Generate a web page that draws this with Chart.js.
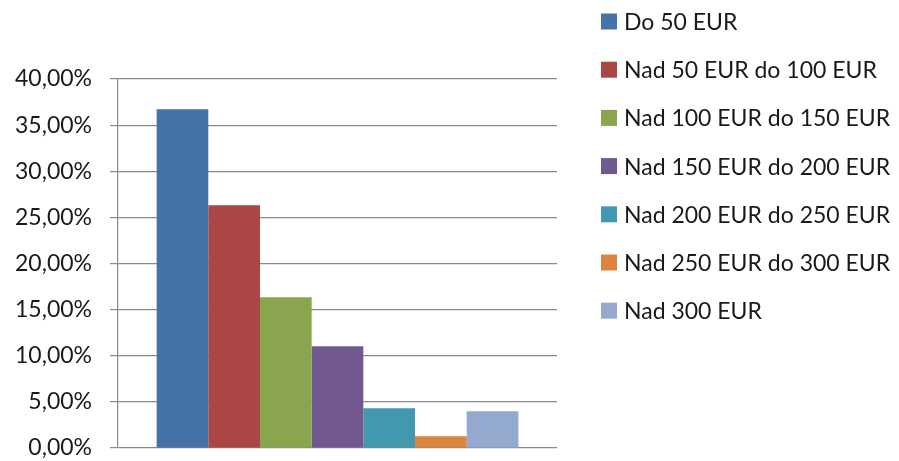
<!DOCTYPE html>
<html>
<head>
<meta charset="utf-8">
<script src="https://cdn.jsdelivr.net/npm/chart.js@4/dist/chart.umd.min.js"></script>
<style>
  html, body { margin: 0; padding: 0; background: #fff; }
  #wrap { width: 899px; height: 461px; position: relative; }
</style>
</head>
<body>
<div id="wrap"><canvas id="spend_chart"></canvas></div>
<script>
// single category, one dataset per price band
const categories = [''];
const bandLabels = ['Do 50 EUR', 'Nad 50 EUR do 100 EUR', 'Nad 100 EUR do 150 EUR', 'Nad 150 EUR do 200 EUR',
  'Nad 200 EUR do 250 EUR', 'Nad 250 EUR do 300 EUR', 'Nad 300 EUR'];
const bandValues = [36.73, 26.32, 16.34, 11.03, 4.31, 1.27, 3.98];
const bandColors = ['#4572A7', '#AA4643', '#89A54E', '#71588F', '#4198AF', '#DB843D', '#93A9CF'];
const yTicks = [0, 5, 10, 15, 20, 25, 30, 35, 40];

const FONT = 'Lato, "Open Sans", sans-serif';

// legend drawn in the right margin, Excel style
const sideLegend = {
  id: 'sideLegend',
  afterDraw(chart) {
    const ctx = chart.ctx;
    ctx.save();
    ctx.font = '23px ' + FONT;
    ctx.textBaseline = 'middle';
    ctx.textAlign = 'left';
    chart.data.datasets.forEach(function(ds, i) {
      const cy = 21.5 + i * 48.2;
      ctx.fillStyle = ds.backgroundColor;
      ctx.fillRect(601, cy - 8, 16, 16);
      ctx.fillStyle = '#1a1a1a';
      ctx.fillText(ds.label, 624, cy + 1);
    });
    ctx.restore();
  }
};

const ctx = document.getElementById('spend_chart').getContext('2d');
new Chart(ctx, {
  type: 'bar',
  data: {
    labels: categories,
    datasets: bandLabels.map(function(lbl, i) {
      return { label: lbl, data: [bandValues[i]], backgroundColor: bandColors[i], borderWidth: 0 };
    })
  },
  options: {
    responsive: true,
    maintainAspectRatio: false,
    animation: false,
    layout: { padding: { top: 79, right: 342, bottom: 13, left: 0 } },
    categoryPercentage: 0.824,
    barPercentage: 1,
    plugins: { legend: { display: false }, tooltip: { enabled: false } },
    scales: {
      x: { display: false },
      y: {
        min: 0, max: 40,
        afterFit: function(s) { s.width = 118; s.paddingTop = 13; s.paddingBottom = 13; },
        afterBuildTicks: function(s) { s.ticks = yTicks.map(function(v) { return { value: v }; }); },
        grid: { color: '#8a8a8a', lineWidth: 1.2, tickLength: 8 },
        border: { color: '#8a8a8a', width: 1.2 },
        ticks: {
          padding: 18,
          color: '#1a1a1a',
          font: { family: FONT, size: 23 },
          callback: function(v) { return v.toFixed(2).replace('.', ',') + '%'; }
        }
      }
    }
  },
  plugins: [sideLegend]
});
</script>
</body>
</html>
